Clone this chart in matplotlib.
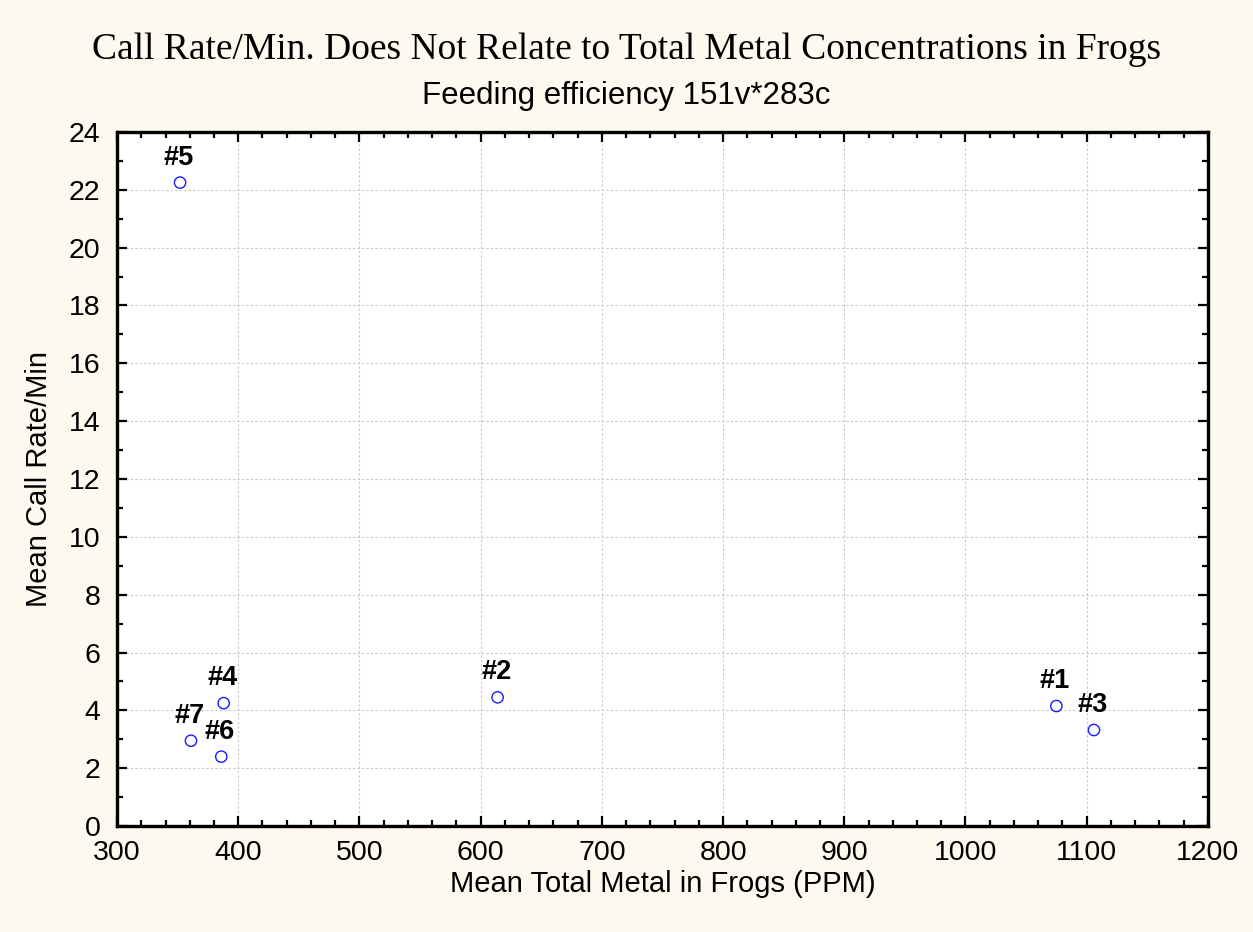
import matplotlib
matplotlib.use("Agg")
import matplotlib.pyplot as plt
from matplotlib.ticker import MultipleLocator

labels = ["#1", "#2", "#3", "#4", "#5", "#6", "#7"]
metal = [1075, 614, 1106, 388, 352, 386, 361]
call_rate = [4.15, 4.45, 3.32, 4.25, 22.25, 2.4, 2.95]

plt.rcParams['font.family'] = ['Liberation Sans', 'DejaVu Sans']

fig = plt.figure(figsize=(12.53, 9.32), dpi=100, facecolor='#FDF9EE')
ax = fig.add_axes([0.0934, 0.1137, 0.8706, 0.7447])
ax.set_facecolor('white')

ax.scatter(metal, call_rate, s=66, facecolors='none', edgecolors='#1a1aff', linewidths=1.0, zorder=3)
for lab, xv, yv in zip(labels, metal, call_rate):
    ax.annotate(lab, (xv, yv), xytext=(-1, 13), textcoords='offset points',
                ha='center', va='baseline', fontsize=19.5, fontweight='bold', color='black')

ax.set_xlim(300, 1200)
ax.set_ylim(0, 24)
ax.xaxis.set_major_locator(MultipleLocator(100))
ax.xaxis.set_minor_locator(MultipleLocator(20))
ax.yaxis.set_major_locator(MultipleLocator(2))
ax.yaxis.set_minor_locator(MultipleLocator(1))
ax.tick_params(which='both', direction='in', top=True, right=True, labelsize=20.5, width=1.6)
ax.tick_params(which='major', length=7)
ax.tick_params(which='minor', length=4)
ax.tick_params(axis='x', pad=10)
ax.tick_params(axis='y', pad=12)
for sp in ax.spines.values():
    sp.set_linewidth(2.4)
ax.grid(True, which='major', linestyle=(0, (2, 2)), color='#c8c8c8', linewidth=0.8)
ax.set_axisbelow(True)

ax.set_xlabel("Mean Total Metal in Frogs (PPM)", fontsize=21, labelpad=3)
ax.set_ylabel("Mean Call Rate/Min", fontsize=21, labelpad=11)

fig.text(0.5, 0.947, "Call Rate/Min. Does Not Relate to Total Metal Concentrations in Frogs",
         ha='center', va='center', fontsize=27, family=['Liberation Serif', 'DejaVu Serif'])
fig.text(0.5, 0.897, "Feeding efficiency 151v*283c", ha='center', va='center', fontsize=22.5)

fig.savefig("out.png", dpi=100, facecolor=fig.get_facecolor())
